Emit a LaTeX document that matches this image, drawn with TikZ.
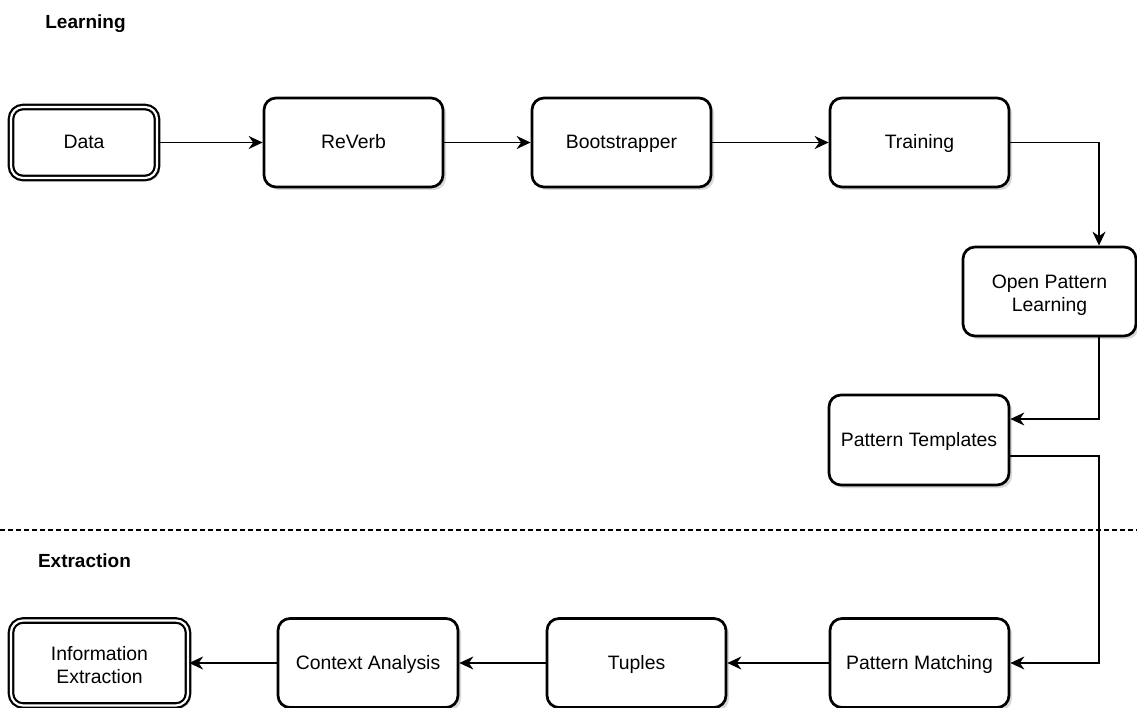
\documentclass[tikz,border=0pt]{standalone}
\usepackage{fontspec}
\setmainfont{Liberation Sans}
\usetikzlibrary{arrows.meta,shadows}
\newcommand{\topstrut}{\rule{0pt}{17pt}}
\newcommand{\botstrut}{\rule[-5pt]{0pt}{5pt}}
\newcommand{\lowerlines}[2]{\raisebox{0pt}[23pt][0pt]{}#1\\#2}
\tikzset{
  stage/.style={draw=black, line width=2.7pt, rounded corners=12pt, fill=white,
    minimum width=179pt, minimum height=89pt, inner sep=0pt, align=center,
    font=\fontsize{19.4}{23}\selectfont,
    execute at begin node=\topstrut, execute at end node=\botstrut,
    drop shadow={shadow xshift=3pt, shadow yshift=-3pt, fill=black!25, opacity=0.6}},
  terminal/.style={stage, double=white, double distance=2.2pt, line width=2.2pt},
  flow/.style={draw=black, line width=1.5pt, -{Stealth[length=14pt,width=13pt,inset=4.5pt]}},
  section/.style={font=\bfseries\fontsize{19}{23}\selectfont, inner sep=0pt},
  divider/.style={draw=black, line width=1.6pt, dash pattern=on 5pt off 3pt}
}
\begin{document}
\begin{tikzpicture}[x=1pt, y=-1pt]
  \useasboundingbox (0,0) rectangle (1137,708);

  % section headings and separator
  \node[section] (learnlbl) at (85.5,24) {Learning};
  \node[section] (extrlbl) at (84.5,561) {Extraction};
  \coordinate (sepL) at (0,530);
  \coordinate (sepR) at (1137,530);
  \draw[divider] (sepL) -- (sepR);

  % learning pipeline
  \node[terminal, minimum width=146pt, minimum height=71pt] (data) at (84,142.5) {Data};
  \node[stage] (reverb) at (353.5,142.5) {ReVerb};
  \node[stage] (boot) at (621.5,142.5) {Bootstrapper};
  \node[stage] (train) at (919.5,142.5) {Training};
  \node[stage, minimum width=173pt] (opl) at (1049.5,291.5) {\lowerlines{Open Pattern}{Learning}};
  \node[stage, minimum width=180pt, minimum height=90pt] (pt) at (919,440) {Pattern Templates};

  % extraction pipeline
  \node[stage] (pm) at (919.5,663) {Pattern Matching};
  \node[stage] (tuples) at (636.5,663) {Tuples};
  \node[stage, minimum width=180pt] (ctx) at (368,663) {Context Analysis};
  \node[terminal, minimum width=177pt, minimum height=85pt] (ie) at (99.5,663) {\lowerlines{Information}{Extraction}};

  % vertical rail on the right side
  \coordinate (rail) at (1099,0);

  \draw[flow] (data.east) -- (reverb.west);
  \draw[flow] (reverb.east) -- (boot.west);
  \draw[flow] (boot.east) -- (train.west);
  \draw[flow] (train.east) -| (rail |- opl.north);
  \draw[flow] (rail |- opl.south) |- ([yshift=21pt]pt.east);
  \draw[flow] ([yshift=-16pt]pt.east) -| (rail |- pm.east) -- (pm.east);
  \draw[flow] (pm.west) -- (tuples.east);
  \draw[flow] (tuples.west) -- (ctx.east);
  \draw[flow] (ctx.west) -- (ie.east);
\end{tikzpicture}
\end{document}
